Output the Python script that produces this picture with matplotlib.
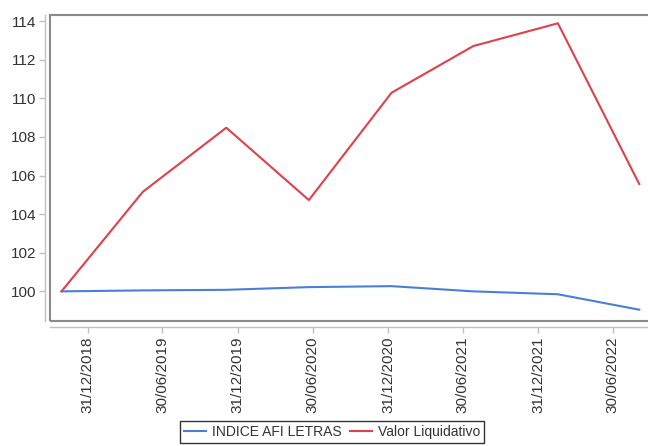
import matplotlib
matplotlib.use("Agg")
import matplotlib.pyplot as plt
from matplotlib.patches import Rectangle
import pandas as pd

plt.rcParams['font.family'] = ['Liberation Sans', 'DejaVu Sans']

# ---- data ----
dates = pd.to_datetime(["2018-10-28", "2019-05-14", "2019-12-03", "2020-06-21",
                        "2021-01-08", "2021-07-26", "2022-02-17", "2022-09-03"])
indice_afi_letras = [100.0, 100.05, 100.08, 100.22, 100.27, 100.0, 99.85, 99.05]
valor_liquidativo = [100.0, 105.16, 108.48, 104.73, 110.29, 112.71, 113.89, 105.56]
tick_dates = pd.to_datetime(["2018-12-31", "2019-06-30", "2019-12-31", "2020-06-30",
                             "2020-12-31", "2021-06-30", "2021-12-31", "2022-06-30"])
tick_labels = ["31/12/2018", "30/06/2019", "31/12/2019", "30/06/2020",
               "31/12/2020", "30/06/2021", "31/12/2021", "30/06/2022"]
y_ticks = [100, 102, 104, 106, 108, 110, 112, 114]

W, H = 648, 446
fig = plt.figure(figsize=(W / 100, H / 100), dpi=100)
left, right, top, bottom = 50, 652, 15, 320.7
ax = fig.add_axes([left / W, 1 - bottom / H, (right - left) / W, (bottom - top) / H])

ax.plot(dates, indice_afi_letras, color='#4a7fd8', lw=1.5, label='INDICE AFI LETRAS')
ax.plot(dates, valor_liquidativo, color='#e0404a', lw=1.5, label='Valor Liquidativo')

ax.set_xlim(pd.Timestamp("2018-09-30"), pd.Timestamp("2022-10-04"))
ax.set_ylim(98.48, 114.32)

ax.set_xticks(tick_dates)
ax.set_xticklabels(tick_labels)
ax.set_yticks(y_ticks)
ax.set_yticklabels([str(v) for v in y_ticks])

for s in ['top', 'right']:
    ax.spines[s].set_visible(False)
ax.spines['left'].set_position(('outward', 3.6))
ax.spines['bottom'].set_position(('outward', 4.3))
for s in ['left', 'bottom']:
    ax.spines[s].set_color('#c0c0c0')
    ax.spines[s].set_linewidth(1.0)

ax.tick_params(axis='both', colors='#c0c0c0', length=4, width=1,
               labelcolor='#333333', labelsize=11)
ax.tick_params(axis='y', pad=2)
ax.tick_params(axis='x', pad=3, labelrotation=90)

# plot frame
frame = Rectangle((0, 0), 1, 1, transform=ax.transAxes, fill=False,
                  edgecolor='#8a8a8a', lw=1.5, clip_on=False, zorder=5)
ax.add_patch(frame)

leg = fig.legend(loc='upper center', bbox_to_anchor=(332 / W, 1 - 421 / H),
                 ncol=2, frameon=True, fancybox=False, fontsize=10,
                 handlelength=1.6, handletextpad=0.4, columnspacing=0.6,
                 borderpad=0.3, borderaxespad=0)
leg.get_frame().set_edgecolor('black')
leg.get_frame().set_linewidth(1.0)
for t in leg.get_texts():
    t.set_color('#333333')

fig.savefig('out.png', dpi=100)
